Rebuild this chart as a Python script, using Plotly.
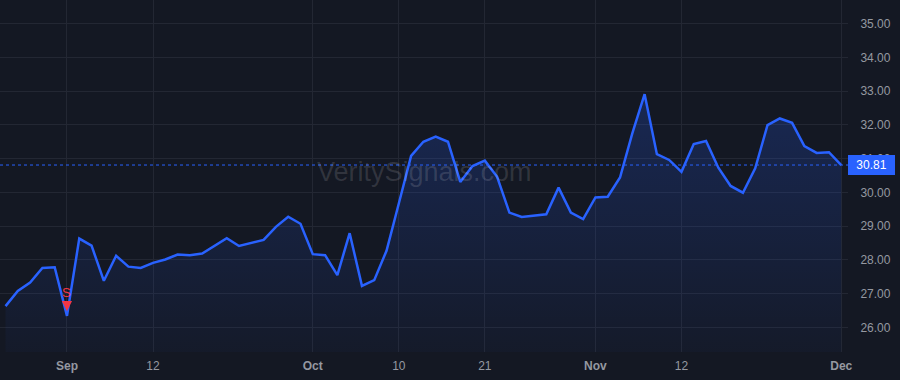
import plotly.graph_objects as go

dates = [
    "2024-08-26", "2024-08-27", "2024-08-28", "2024-08-29", "2024-08-30",
    "2024-09-03", "2024-09-04", "2024-09-05", "2024-09-06",
    "2024-09-09", "2024-09-10", "2024-09-11", "2024-09-12", "2024-09-13",
    "2024-09-16", "2024-09-17", "2024-09-18", "2024-09-19", "2024-09-20",
    "2024-09-23", "2024-09-24", "2024-09-25", "2024-09-26", "2024-09-27",
    "2024-09-30",
    "2024-10-01", "2024-10-02", "2024-10-03", "2024-10-04",
    "2024-10-07", "2024-10-08", "2024-10-09", "2024-10-10", "2024-10-11",
    "2024-10-14", "2024-10-15", "2024-10-16", "2024-10-17", "2024-10-18",
    "2024-10-21", "2024-10-22", "2024-10-23", "2024-10-24", "2024-10-25",
    "2024-10-28", "2024-10-29", "2024-10-30", "2024-10-31",
    "2024-11-01",
    "2024-11-04", "2024-11-05", "2024-11-06", "2024-11-07", "2024-11-08",
    "2024-11-11", "2024-11-12", "2024-11-13", "2024-11-14", "2024-11-15",
    "2024-11-18", "2024-11-19", "2024-11-20", "2024-11-21", "2024-11-22",
    "2024-11-25", "2024-11-26", "2024-11-27", "2024-11-29",
    "2024-12-02",
]

prices = [
    26.63, 27.08, 27.33, 27.76, 27.78,
    26.34, 28.63, 28.42, 27.38,
    28.12, 27.80, 27.76, 27.91, 28.01,
    28.16, 28.14, 28.19, 28.41, 28.64,
    28.41, 28.51, 28.59, 28.98, 29.28,
    29.07,
    28.17, 28.14, 27.55, 28.79,
    27.23, 27.40, 28.27, 29.67, 31.08,
    31.50, 31.65, 31.50, 30.31, 30.78,
    30.94, 30.46, 29.40, 29.27, 29.31,
    29.35, 30.14, 29.40, 29.21,
    29.85,
    29.87, 30.44, 31.75, 32.91, 31.13,
    30.96, 30.61, 31.43, 31.52, 30.73,
    30.19, 29.99, 30.71, 31.99, 32.19,
    32.06, 31.37, 31.17, 31.19,
    30.81,
]

tick_dates = ["2024-09-03", "2024-09-12", "2024-10-01", "2024-10-10",
              "2024-10-21", "2024-11-01", "2024-11-12", "2024-12-02"]
tick_labels = ["<b>Sep</b>", "12", "<b>Oct</b>", "10", "21",
               "<b>Nov</b>", "12", "<b>Dec</b>"]

y_ticks = [26, 27, 28, 29, 30, 31, 32, 33, 34, 35]

signal_dates = ["2024-09-03"]
signal_labels = ["S"]
signal_levels = [26.48]

last_price = prices[-1]

BG = "#141823"
GRID = "#232733"
LINE = "#2962ff"
TXT = "#9598a1"
RED = "#f23645"

fig = go.Figure()
fig.add_trace(go.Scatter(
    x=dates, y=prices, mode="lines",
    line=dict(color=LINE, width=2.5),
    fill="tozeroy",
    fillgradient=dict(type="vertical", start=25.2, stop=33.0,
                      colorscale=[[0, "rgba(41,98,255,0.03)"],
                                  [1, "rgba(41,98,255,0.22)"]]),
    hoverinfo="skip", showlegend=False,
))

for d, lab, lv in zip(signal_dates, signal_labels, signal_levels):
    fig.add_annotation(
        x=d, y=lv, xref="x", yref="y", text=lab,
        showarrow=True, ax=0, ay=-19, arrowhead=2, arrowsize=0.85,
        arrowwidth=2.4, arrowcolor=RED, standoff=0, startstandoff=0,
        font=dict(color=RED, size=13, family="Liberation Sans, Arial"),
    )

fig.add_shape(type="line", xref="paper", x0=0, x1=1, yref="y",
              y0=last_price, y1=last_price,
              line=dict(color=LINE, width=1, dash="dot"), layer="above")

fig.add_annotation(
    xref="paper", x=1.0, xanchor="left", yref="y", y=last_price,
    text=f"{last_price:.2f}", showarrow=False,
    bgcolor=LINE, bordercolor=LINE, borderpad=2,
    font=dict(color="#ffffff", size=12, family="Liberation Sans, Arial"),
    width=41, align="center",
)

fig.add_annotation(
    xref="paper", yref="paper", x=0.5, y=0.51,
    text="VeritySignals.com", showarrow=False,
    font=dict(color="rgba(255,255,255,0.13)", size=27,
              family="Liberation Sans, Arial"),
)

fig.update_layout(
    width=900, height=380,
    margin=dict(l=0, r=52, t=0, b=28),
    paper_bgcolor=BG, plot_bgcolor=BG,
    font=dict(family="Liberation Sans, Arial", size=12, color=TXT),
    xaxis=dict(
        type="category", categoryorder="array", categoryarray=dates,
        range=[-0.45, len(dates) - 1 + 0.55],
        tickmode="array", tickvals=tick_dates, ticktext=tick_labels,
        showgrid=True, gridcolor=GRID, gridwidth=1,
        zeroline=False, showline=False,
        ticks="outside", ticklen=3, tickcolor=BG,
        tickfont=dict(size=12, color=TXT),
    ),
    yaxis=dict(
        side="right", range=[25.27, 35.70],
        tickmode="array", tickvals=y_ticks, tickformat=".2f",
        showgrid=True, gridcolor=GRID, gridwidth=1,
        zeroline=False, showline=False,
        ticks="outside", ticklen=9, tickcolor=BG,
        tickfont=dict(size=12, color=TXT),
    ),
)

fig.write_html("out.html")
